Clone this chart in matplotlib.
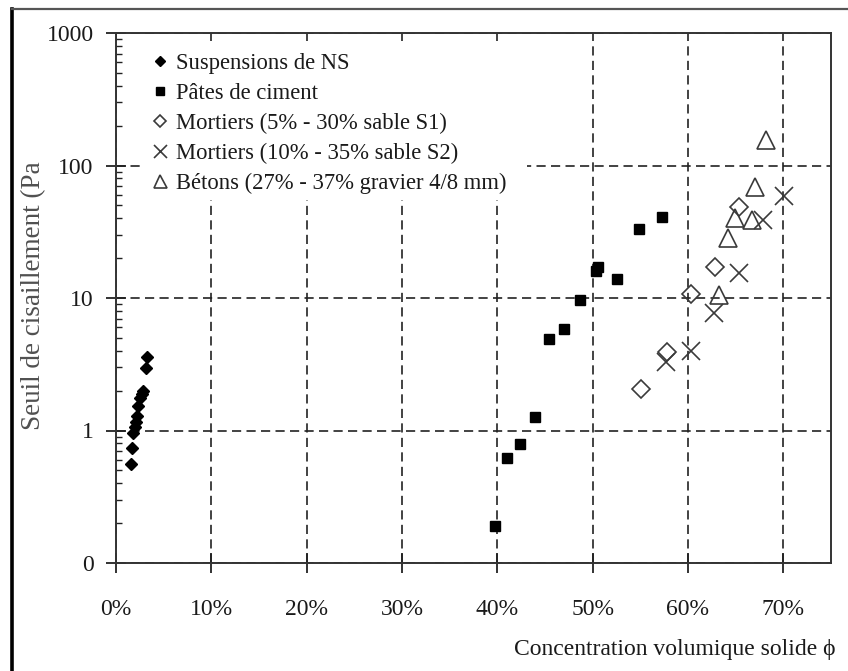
import matplotlib
matplotlib.use("Agg")
import matplotlib.pyplot as plt
from matplotlib.lines import Line2D
from matplotlib.patches import Rectangle
from matplotlib.ticker import FixedLocator, NullFormatter, LogLocator

plt.rcParams['font.family'] = ['Liberation Serif', 'DejaVu Serif']

# ---------------- data ----------------
ns_x = [1.6, 1.7, 1.8, 2.0, 2.1, 2.2, 2.3, 2.5, 2.7, 2.8, 3.1, 3.3]
ns_y = [0.56, 0.74, 0.96, 1.06, 1.15, 1.29, 1.53, 1.75, 1.9, 1.97, 2.95, 3.6]

pate_x = [39.8, 41.0, 42.4, 43.9, 45.4, 47.0, 48.7, 50.4, 50.6, 52.6, 54.9, 57.3]
pate_y = [0.19, 0.62, 0.79, 1.27, 4.93, 5.86, 9.66, 16.0, 17.0, 14.0, 33.2, 41.1]

m1_x = [55.1, 57.8, 60.3, 62.8, 65.3]
m1_y = [2.05, 3.9, 10.8, 17.2, 49.0]

m2_x = [57.7, 60.3, 62.7, 65.3, 67.9, 70.1]
m2_y = [3.3, 4.0, 7.7, 15.5, 38.8, 59.0]

bet_x = [63.3, 64.2, 64.9, 66.7, 67.0, 68.2]
bet_y = [10.5, 28.2, 40.0, 38.8, 69.0, 156.0]

labels = ["Suspensions de NS", "Pâtes de ciment",
          "Mortiers (5% - 30% sable S1)", "Mortiers (10% - 35% sable S2)",
          "Bétons (27% - 37% gravier 4/8 mm)"]

x_ticks = [0, 10, 20, 30, 40, 50, 60, 70]
x_ticklabels = ["0%", "10%", "20%", "30%", "40%", "50%", "60%", "70%"]
y_ticks = [0.1, 1, 10, 100, 1000]
y_ticklabels = ["0", "1", "10", "100", "1000"]

# ---------------- figure ----------------
W, H = 848, 671
fig = plt.figure(figsize=(W / 100, H / 100), dpi=100)
L, R, T, B = 116, 831, 33, 563
ax = fig.add_axes([L / W, 1 - B / H, (R - L) / W, (B - T) / H])

FS = 17
LFS = 16.3
txtc = '#1a1a1a'
edge = '#3a3a3a'

ax.plot([v / 100 for v in ns_x], ns_y, linestyle='none', marker='D', ms=6.5,
        mfc='black', mec='black', zorder=3, label=labels[0])
ax.plot([v / 100 for v in pate_x], pate_y, linestyle='none', marker='s', ms=7.5,
        mfc='black', mec='black', zorder=3, label=labels[1])
ax.plot([v / 100 for v in m1_x], m1_y, linestyle='none', marker='D', ms=9,
        mfc='none', mec=edge, mew=1.2, zorder=3, label=labels[2])
ax.plot([v / 100 for v in m2_x], m2_y, linestyle='none', marker='x', ms=13,
        mec=edge, mew=1.2, zorder=3, label=labels[3])
ax.plot([v / 100 for v in bet_x], bet_y, linestyle='none', marker='^', ms=13,
        mfc='none', mec=edge, mew=1.2, zorder=3, label=labels[4])

ax.set_yscale('log')
ax.set_xlim(0, 0.75)
ax.set_ylim(0.1, 1000)

ax.xaxis.set_major_locator(FixedLocator([v / 100 for v in x_ticks]))
ax.set_xticklabels(x_ticklabels)
ax.yaxis.set_major_locator(FixedLocator(y_ticks))
ax.set_yticklabels(y_ticklabels)
ax.yaxis.set_minor_locator(LogLocator(base=10, subs=range(2, 10), numticks=20))
ax.yaxis.set_minor_formatter(NullFormatter())

ax.tick_params(axis='x', which='major', direction='inout', length=14, width=1.3,
               color='#222222', pad=19, labelsize=FS, labelcolor=txtc)
ax.tick_params(axis='y', which='major', direction='inout', length=14, width=1.3,
               color='#222222', pad=9, labelsize=FS, labelcolor=txtc)
ax.tick_params(axis='y', which='minor', direction='in', length=4, width=1.0,
               color='#222222')
ax.tick_params(top=False, right=False, which='both')

for s in ax.spines.values():
    s.set_color('#333333')
    s.set_linewidth(1.4)

ax.set_axisbelow(True)
ax.grid(True, which='major', color='#222222', linewidth=1.2,
        linestyle=(0, (5.5, 3.2)))

# white area behind legend (hides the grid)
ax.add_patch(Rectangle((140 / W, 1 - 200 / H), (527 - 140) / W, (200 - 45) / H,
                       transform=fig.transFigure, facecolor='white',
                       edgecolor='none', zorder=1))

leg = ax.legend(loc='upper left', bbox_to_anchor=(148 / W, 1 - 53 / H),
                bbox_transform=fig.transFigure, frameon=False, fontsize=LFS,
                borderpad=0, handlelength=1.05, handletextpad=0.2,
                labelspacing=0.39, markerscale=0.72, borderaxespad=0)
for t in leg.get_texts():
    t.set_color(txtc)
leg.set_zorder(5)

fig.text(34 / W, 1 - 296 / H, "Seuil de cisaillement (Pa", rotation=90,
         ha='center', va='center', fontsize=19.5, color='#505050')
fig.text(514 / W, 1 - 650 / H, "Concentration volumique solide ϕ",
         ha='left', va='center', fontsize=FS, color=txtc)

# outer frame (partly outside picture)
fig.add_artist(Line2D([12 / W, 12 / W], [0, 1 - 9 / H], transform=fig.transFigure,
                      color='black', linewidth=2.6))
fig.add_artist(Line2D([12 / W, 1], [1 - 9 / H, 1 - 9 / H], transform=fig.transFigure,
                      color='#555555', linewidth=1.6))

fig.savefig('out.png', dpi=100)
